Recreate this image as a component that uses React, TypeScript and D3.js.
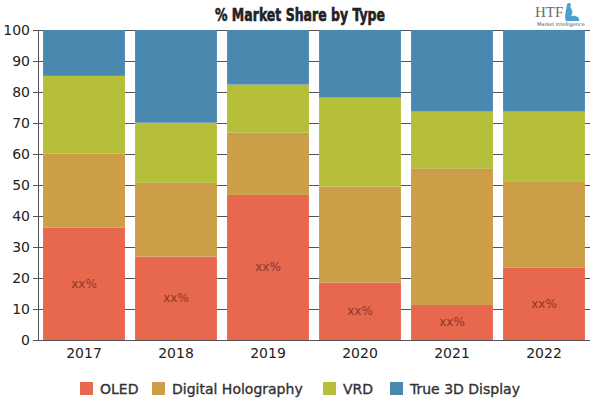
import React from "react";
import * as d3 from "d3";

const years = ["2017", "2018", "2019", "2020", "2021", "2022"];
const seriesNames = ["OLED", "Digital Holography", "VRD", "True 3D Display"];
const oled = [36.2, 26.9, 46.8, 18.5, 11.3, 23.3];
const digitalHolography = [24.0, 23.8, 20.1, 31.0, 44.1, 27.7];
const vrd = [25.0, 19.4, 15.5, 28.7, 18.3, 22.7];
const true3d = [14.8, 29.9, 17.6, 21.8, 26.3, 26.3];
const yTicks = [0, 10, 20, 30, 40, 50, 60, 70, 80, 90, 100];
const colors = ["#e8674f", "#cc9e47", "#b5bf3a", "#4a88b0"];
const barLabel = "xx%";

export default function App() {
  const W = 600, H = 400;
  const left = 38, right = 590, top = 30, bottom = 340;
  const x = d3.scaleBand<string>().domain(years).range([left, right]).paddingInner(0.11).paddingOuter(0.055);
  const y = d3.scaleLinear().domain([0, 100]).range([bottom, top]);

  const rows = years.map((yr, i) => ({
    year: yr,
    OLED: oled[i],
    "Digital Holography": digitalHolography[i],
    VRD: vrd[i],
    "True 3D Display": true3d[i],
  }));
  const stacked = d3.stack<any>().keys(seriesNames)(rows);

  const legendX = [80, 152, 323, 390];

  return (
    <svg width={W} height={H} style={{ position: "absolute", left: 0, top: 0, background: "#fff" }}
      fontFamily="DejaVu Sans, Verdana, sans-serif">
      <text x={215} y={21} fontSize={17} fontWeight="bold" textLength={170} lengthAdjust="spacingAndGlyphs"
        fontFamily="DejaVu Sans, sans-serif" fill="#222" stroke="#222" strokeWidth={0.6}>
        % Market Share by Type
      </text>
      {/* logo */}
      <g>
        <text x={535} y={17} fontSize={15} fontFamily="Liberation Serif, serif" fill="#6b6b6b">HTF</text>
        <path d="M567,4 C572,8 574,12 571,16 C577,15 580,18 579,21 L566,21 C564,17 566,12 567,4 Z" fill="#4d9ed0" />
        <circle cx={569} cy={5} r={2} fill="#4d9ed0" />
        <text x={537} y={26} fontSize={5} fill="#555">Market Intelligence</text>
      </g>
      {/* gridlines */}
      {yTicks.map((t) => (
        <line key={"g" + t} x1={left - 5} x2={right} y1={y(t)} y2={y(t)} stroke="#555" strokeWidth={1} shapeRendering="crispEdges" />
      ))}
      {/* bars */}
      {stacked.map((s, si) => (
        <g key={s.key} fill={colors[si]}>
          {s.map((d, i) => (
            <rect key={i} x={x(years[i])} width={x.bandwidth()} y={y(d[1])} height={y(d[0]) - y(d[1])} />
          ))}
        </g>
      ))}
      {/* labels */}
      {stacked[0].map((d, i) => (
        <text key={"l" + i} x={(x(years[i]) as number) + x.bandwidth() / 2} y={(y(d[0]) + y(d[1])) / 2 + 4}
          textAnchor="middle" fontSize={12} fill="#8a3a2c">{barLabel}</text>
      ))}
      {/* axes */}
      <line x1={left} x2={left} y1={top} y2={bottom} stroke="#555" shapeRendering="crispEdges" />
      <line x1={left} x2={right} y1={bottom} y2={bottom} stroke="#555" shapeRendering="crispEdges" />
      {yTicks.map((t) => (
        <text key={"yt" + t} x={30} y={y(t) + 5} textAnchor="end" fontSize={14} fill="#222">{t}</text>
      ))}
      {years.map((yr) => (
        <text key={"xt" + yr} x={(x(yr) as number) + x.bandwidth() / 2} y={358} textAnchor="middle" fontSize={14} fill="#222">{yr}</text>
      ))}
      {/* legend */}
      {seriesNames.map((n, i) => (
        <g key={"lg" + n}>
          <rect x={legendX[i]} y={382} width={13} height={13} fill={colors[i]} />
          <text x={legendX[i] + 20} y={394} fontSize={14} fill="#333" stroke="#333" strokeWidth={0.35}>{n}</text>
        </g>
      ))}
    </svg>
  );
}
